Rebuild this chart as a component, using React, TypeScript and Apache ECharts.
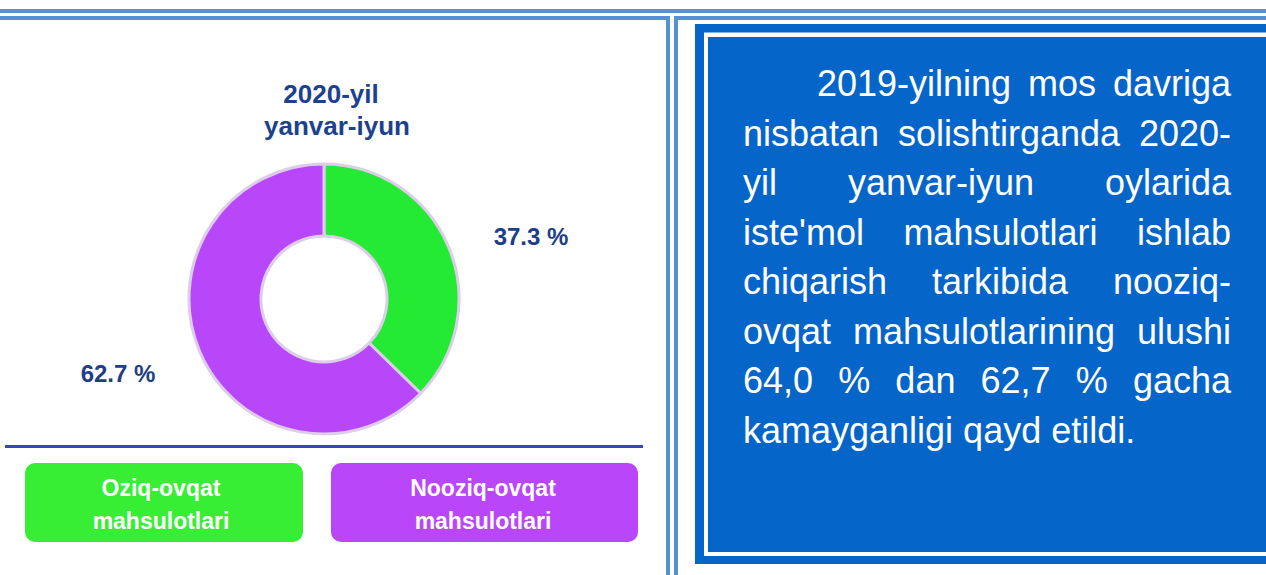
import React, { useEffect, useRef } from "react";
import * as echarts from "echarts";

const categories = ["Oziq-ovqat mahsulotlari", "Nooziq-ovqat mahsulotlari"];
const shares = [37.3, 62.7];
const sliceColors = ["#25ea34", "#b847f9"];
const legendColors = ["#37ee34", "#b946f8"];
const titleLines = ["2020-yil", "yanvar-iyun"];
const legendLines = [
  ["Oziq-ovqat", "mahsulotlari"],
  ["Nooziq-ovqat", "mahsulotlari"],
];
const paragraphLines = [
  "2019-yilning mos davriga",
  "nisbatan solishtirganda 2020-",
  "yil yanvar-iyun oylarida",
  "iste'mol mahsulotlari ishlab",
  "chiqarish tarkibida nooziq-",
  "ovqat mahsulotlarining ulushi",
  "64,0 % dan 62,7 % gacha",
  "kamayganligi qayd etildi.",
];

const FONT = "'Liberation Sans', Arial, Helvetica, sans-serif";

function measure(text: string, font: string): number {
  const c = document.createElement("canvas");
  const ctx = c.getContext("2d");
  if (!ctx) return text.length * 18;
  ctx.font = font;
  return ctx.measureText(text).width;
}

function buildParagraph(): any[] {
  const out: any[] = [];
  const size = 36;
  const font = `${size}px ${FONT}`;
  const left = 743;
  const right = 1231;
  const indent = 74;
  paragraphLines.forEach((line, i) => {
    const y = 83.5 + i * 49.5;
    const startX = i === 0 ? left + indent : left;
    const isLast = i === paragraphLines.length - 1;
    const words = line.split(" ");
    if (isLast || words.length < 2) {
      out.push({
        type: "text",
        x: startX,
        y,
        silent: true,
        style: { text: line, fill: "#ffffff", font, align: "left", verticalAlign: "middle" },
      });
      return;
    }
    const widths = words.map((w) => measure(w, font));
    const total = widths.reduce((a, b) => a + b, 0);
    const gap = (right - startX - total) / (words.length - 1);
    let x = startX;
    words.forEach((w, k) => {
      out.push({
        type: "text",
        x,
        y,
        silent: true,
        style: { text: w, fill: "#ffffff", font, align: "left", verticalAlign: "middle" },
      });
      x += widths[k] + gap;
    });
  });
  return out;
}

export default function App() {
  const ref = useRef<HTMLDivElement>(null);
  useEffect(() => {
    document.body.style.margin = "0";
    if (!ref.current) return;
    const chart = echarts.init(ref.current, undefined, { renderer: "svg" });
    const lineBlue = "#5591d6";
    const panelBlue = "#0565c9";
    const labelPos = [
      [531, 236],
      [118, 373],
    ];
    const graphics: any[] = [
      { type: "rect", silent: true, shape: { x: 0, y: 9, width: 1266, height: 4 }, style: { fill: lineBlue } },
      { type: "rect", silent: true, shape: { x: 0, y: 16, width: 670, height: 4 }, style: { fill: lineBlue } },
      { type: "rect", silent: true, shape: { x: 666, y: 16, width: 4, height: 560 }, style: { fill: lineBlue } },
      { type: "rect", silent: true, shape: { x: 674, y: 16, width: 592, height: 4 }, style: { fill: lineBlue } },
      { type: "rect", silent: true, shape: { x: 674, y: 16, width: 4, height: 560 }, style: { fill: lineBlue } },
      { type: "rect", silent: true, shape: { x: 695, y: 24, width: 600, height: 540 }, style: { fill: panelBlue } },
      { type: "rect", silent: true, shape: { x: 704, y: 32.5, width: 600, height: 523.5 }, style: { fill: "#ffffff" } },
      { type: "rect", silent: true, shape: { x: 708, y: 37, width: 600, height: 515 }, style: { fill: panelBlue } },
      { type: "rect", silent: true, shape: { x: 5, y: 445, width: 638, height: 3 }, style: { fill: "#3446bd" } },
      { type: "rect", silent: true, shape: { x: 456, y: 298, width: 2, height: 2 }, style: { fill: "#333333" } },
      {
        type: "text", silent: true, x: 331, y: 94,
        style: { text: titleLines[0], font: `bold 26px ${FONT}`, fill: "#1b418f", align: "center", verticalAlign: "middle" },
      },
      {
        type: "text", silent: true, x: 337, y: 126,
        style: { text: titleLines[1], font: `bold 26px ${FONT}`, fill: "#1b418f", align: "center", verticalAlign: "middle" },
      },
    ];
    const boxes = [
      { x: 25, w: 278, cx: 161 },
      { x: 331, w: 307, cx: 483 },
    ];
    categories.forEach((_, i) => {
      const b = boxes[i];
      graphics.push({
        type: "rect", silent: true,
        shape: { x: b.x, y: 463, width: b.w, height: 79, r: 10 },
        style: { fill: legendColors[i] },
      });
      legendLines[i].forEach((t, k) => {
        graphics.push({
          type: "text", silent: true, x: b.cx, y: 488 + k * 33,
          style: { text: t, font: `bold 23px ${FONT}`, fill: "#ffffff", align: "center", verticalAlign: "middle" },
        });
      });
    });
    graphics.push(...buildParagraph());

    chart.setOption({
      animation: false,
      backgroundColor: "#ffffff",
      graphic: graphics,
      series: [
        {
          type: "pie",
          silent: true,
          center: [324, 299],
          radius: [63, 135],
          startAngle: 90,
          clockwise: true,
          avoidLabelOverlap: false,
          itemStyle: { borderColor: "#dccde8", borderWidth: 3 },
          label: {
            show: true,
            position: "outside",
            formatter: (p: any) => `${p.value} %`,
            fontSize: 24,
            fontWeight: "bold",
            fontFamily: FONT,
            color: "#203d88",
          },
          labelLine: { show: false },
          labelLayout: (params: any) => ({
            x: labelPos[params.dataIndex][0],
            y: labelPos[params.dataIndex][1],
            align: "center",
            verticalAlign: "middle",
          }),
          emphasis: { disabled: true },
          data: categories.map((name, i) => ({
            name,
            value: shares[i],
            itemStyle: { color: sliceColors[i] },
          })),
        },
      ],
    });
    return () => chart.dispose();
  }, []);
  return (
    <div
      ref={ref}
      style={{ position: "fixed", left: 0, top: 0, width: 1266, height: 575 }}
    />
  );
}
